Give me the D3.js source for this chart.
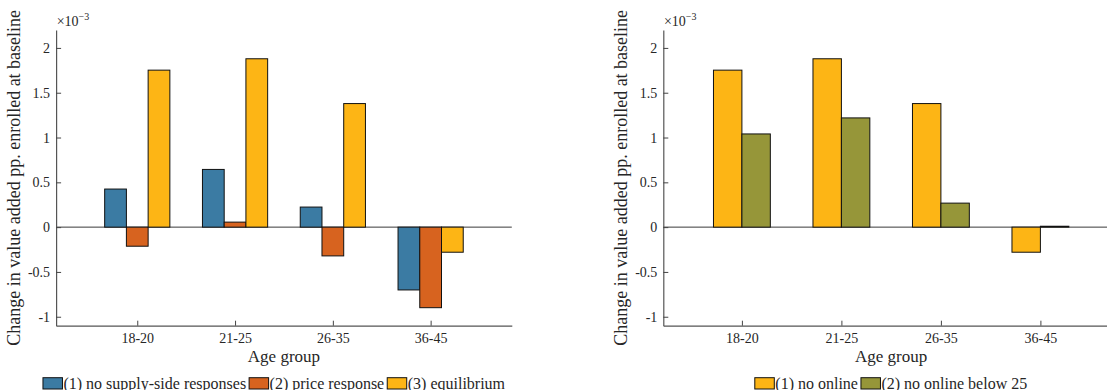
<!DOCTYPE html>
<html>
<head>
<meta charset="utf-8">
<script src="https://cdn.jsdelivr.net/npm/d3@7/dist/d3.min.js"></script>
<style>
  html, body { margin: 0; padding: 0; background: #ffffff; }
  svg { display: block; }
</style>
</head>
<body>
<svg id="chart" width="1107" height="390"></svg>
<script>
// Age groups on the x axis
const ageGroups = ["18-20", "21-25", "26-35", "36-45"];

// Change in value added per pp. enrolled at baseline (units of 1e-3)
const noSupplySide    = [0.425, 0.644, 0.224, -0.701];
const priceResponse   = [-0.213, 0.056, -0.321, -0.899];
const equilibrium     = [1.752, 1.879, 1.379, -0.280];
const noOnline        = [1.752, 1.879, 1.379, -0.280];
const noOnlineBelow25 = [1.040, 1.219, 0.268, 0.010];

// Series labels
const leftSeriesNames  = ["(1) no supply-side responses", "(2) price response", "(3) equilibrium"];
const rightSeriesNames = ["(1) no online", "(2) no online below 25"];

// Y axis ticks and labels
const yTickValues = [-1, -0.5, 0, 0.5, 1, 1.5, 2];
const yTickLabels = ["-1", "-0.5", "0", "0.5", "1", "1.5", "2"];

const yLabel = "Change in value added pp. enrolled at baseline";
const xLabel = "Age group";

const FONT = '"Liberation Serif"';
const INK = "#262626";

const svg = d3.select("#chart");

const colors = {
  blue: "#3b7ba3",
  orange: "#d7631f",
  gold: "#fdb515",
  olive: "#969639"
};

const plotTop = 30, plotBottom = 325.7;
const y = d3.scaleLinear().domain([-1.1, 2.2]).range([plotBottom, plotTop]);

function styleText(sel, size) {
  return sel.style("font-family", FONT).style("font-size", size + "px").attr("fill", INK);
}

function drawPanel(opts) {
  const { left, width, xDomain, series, names, fills, yLabelX, legendCenter } = opts;
  const x = d3.scaleLinear().domain(xDomain).range([left, left + width]);
  const g = svg.append("g");

  // grouped bar geometry (data units)
  const n = series.length;
  const groupWidth = Math.min(0.8, n / (n + 1.5));
  const barWidth = groupWidth / n;

  // zero baseline
  g.append("line")
    .attr("x1", x(xDomain[0])).attr("x2", x(xDomain[1]))
    .attr("y1", y(0)).attr("y2", y(0))
    .attr("stroke", "#3a3a3a").attr("stroke-width", 1);

  series.forEach((vals, j) => {
    g.append("g").selectAll("rect")
      .data(vals)
      .join("rect")
      .attr("x", (d, i) => x(i + 1 - groupWidth / 2 + j * barWidth))
      .attr("width", x(xDomain[0] + barWidth) - x(xDomain[0]))
      .attr("y", d => y(Math.max(0, d)))
      .attr("height", d => Math.abs(y(d) - y(0)))
      .attr("fill", fills[j])
      .attr("stroke", "#111")
      .attr("stroke-width", 1);
  });

  // y axis
  const yAxis = d3.axisLeft(y)
    .tickValues(yTickValues)
    .tickFormat((d, i) => yTickLabels[i])
    .tickSizeInner(-5).tickSizeOuter(0).tickPadding(6);
  const ya = g.append("g").attr("transform", `translate(${left},0)`).call(yAxis);

  // x axis
  const xAxis = d3.axisBottom(x)
    .tickValues([1, 2, 3, 4])
    .tickFormat(d => ageGroups[d - 1])
    .tickSizeInner(-5).tickSizeOuter(0).tickPadding(7);
  const xa = g.append("g").attr("transform", `translate(0,${plotBottom})`).call(xAxis);

  [ya, xa].forEach(a => {
    a.attr("font-family", null).attr("font-size", null);
    a.select(".domain").attr("stroke", "#555").attr("stroke-width", 1.2);
    a.selectAll(".tick line").attr("stroke", "#444");
    styleText(a.selectAll("text"), 14);
  });

  // exponent marker
  const ex = styleText(g.append("text")
    .attr("x", left + 0.6).attr("y", 25.5), 14);
  ex.append("tspan").text("×10");
  ex.append("tspan").attr("dy", -6).style("font-size", "10px").text("−3");

  // axis labels
  styleText(g.append("text")
    .attr("transform", `translate(${yLabelX},${(plotTop + plotBottom) / 2}) rotate(-90)`)
    .attr("text-anchor", "middle"), 18)
    .text(yLabel);

  styleText(g.append("text")
    .attr("x", left + width / 2).attr("y", 362)
    .attr("text-anchor", "middle"), 17)
    .text(xLabel);

  // legend
  const lg = g.append("g");
  const swW = 19.5, swH = 11.3, swY = 377.7;
  let cx = 0;
  names.forEach((name, j) => {
    lg.append("rect")
      .attr("x", cx).attr("y", swY)
      .attr("width", swW).attr("height", swH)
      .attr("fill", fills[j]).attr("stroke", "#111").attr("stroke-width", 1);
    const t = styleText(lg.append("text")
      .attr("x", cx + swW + 1).attr("y", 388.5), 16)
      .text(name);
    cx += swW + 1 + t.node().getComputedTextLength() + 3;
  });
  const total = cx - 3;
  lg.attr("transform", `translate(${legendCenter - total / 2},0)`);
}

drawPanel({
  left: 56.1, width: 455.7, xDomain: [0.17, 4.83],
  series: [noSupplySide, priceResponse, equilibrium],
  names: leftSeriesNames,
  fills: [colors.blue, colors.orange, colors.gold],
  yLabelX: 20, legendCenter: 274
});

drawPanel({
  left: 663.3, width: 455.7, xDomain: [0.21, 4.79],
  series: [noOnline, noOnlineBelow25],
  names: rightSeriesNames,
  fills: [colors.gold, colors.olive],
  yLabelX: 626.5, legendCenter: 891
});
</script>
</body>
</html>
